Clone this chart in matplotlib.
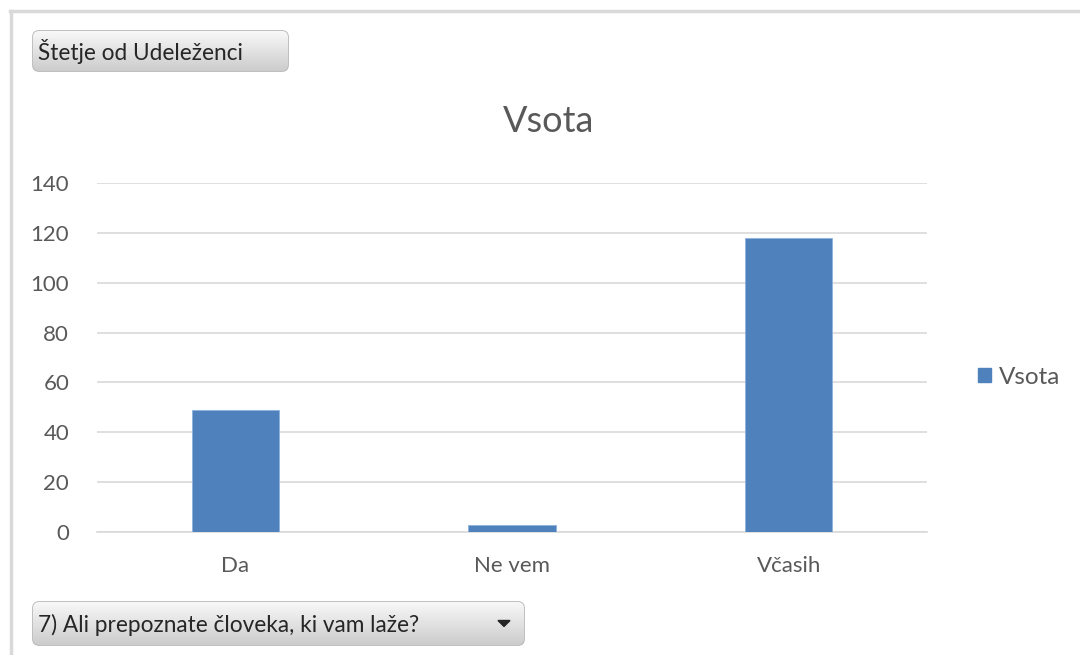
import numpy as np
import matplotlib
matplotlib.use("Agg")
import matplotlib.pyplot as plt
from matplotlib.patches import FancyBboxPatch, Rectangle, Polygon

plt.rcParams['font.family'] = ['Lato', 'DejaVu Sans']

categories = ['Da', 'Ne vem', 'Včasih']
values = [49, 3, 118]
series_name = 'Vsota'
yticks = [0, 20, 40, 60, 80, 100, 120, 140]
field_button = 'Štetje od Udeleženci'
filter_button = '7) Ali prepoznate človeka, ki vam laže?'

W, H = 1080, 655
fig = plt.figure(figsize=(W / 100, H / 100), dpi=100)
fig.patch.set_facecolor('white')

# outer frame of the pivot chart (top and left edges only)
fig.add_artist(plt.Line2D([10 / W, 1], [1 - 11 / H, 1 - 11 / H], color='#d9d9d9', lw=2.5))
fig.add_artist(plt.Line2D([11 / W, 11 / W], [0, 1 - 11 / H], color='#d9d9d9', lw=2.5))

ax = fig.add_axes([97 / W, 1 - 532 / H, 830 / W, 349 / H])
x = np.arange(len(categories))
bar_color = '#4f81bd'
ax.bar(x, values, width=0.315, color=bar_color, edgecolor='#8eb2dc', linewidth=0.6,
       label=series_name, zorder=3)
ax.set_xlim(-0.5, len(categories) - 0.5)
ax.set_ylim(0, 140)
ax.set_yticks(yticks)
ax.set_xticks(x)
ax.set_xticklabels(categories)
ax.grid(axis='y', color='#d9d9d9', lw=1.2, zorder=0)
for s in ['top', 'right', 'left']:
    ax.spines[s].set_visible(False)
ax.spines['bottom'].set_color('#d9d9d9')
ax.spines['bottom'].set_linewidth(1.2)
ax.tick_params(axis='both', length=0, labelsize=16, colors='#595959')
ax.tick_params(axis='y', pad=20)
ax.tick_params(axis='x', pad=17)

# chart title is centred on the whole chart area, not on the plot
fig.text(549 / W, 1 - 122 / H, 'Vsota', fontsize=26, color='#595959',
         ha='center', va='center')

fig.legend(handles=[Rectangle((0, 0), 1, 1, color=bar_color)], labels=[series_name],
           loc='center left', bbox_to_anchor=(956 / W, 1 - 377 / H), frameon=False,
           fontsize=17.5, labelcolor='#595959', handlelength=0.55, handleheight=0.55,
           handletextpad=0.3)


def button(x0, y0, x1, y1, text, arrow=False):
    bax = fig.add_axes([0, 0, 1, 1], zorder=5)
    bax.set_xlim(0, W)
    bax.set_ylim(H, 0)
    bax.axis('off')
    box = FancyBboxPatch((x0, y0), x1 - x0, y1 - y0,
                         boxstyle='round,pad=0,rounding_size=6',
                         facecolor='none', edgecolor='#b4b4b4', lw=1.2)
    bax.add_patch(box)
    grad = np.linspace(0.97, 0.80, 64).reshape(-1, 1)
    im = bax.imshow(grad, cmap='gray', vmin=0, vmax=1, extent=(x0, x1, y1, y0),
                    aspect='auto', zorder=1)
    im.set_clip_path(box)
    bax.text(x0 + 5, (y0 + y1) / 2 + 1, text, fontsize=16.3, color='#262626',
             va='center', ha='left', zorder=3)
    if arrow:
        ax_x = x1 - 20
        cy = (y0 + y1) / 2
        bax.add_patch(Polygon([[ax_x - 6, cy - 3], [ax_x + 6, cy - 3], [ax_x, cy + 3]],
                              closed=True, color='#262626', zorder=3))
    bax.set_xlim(0, W)
    bax.set_ylim(H, 0)


button(33, 31, 288, 71, field_button)
button(33, 602, 524, 645, filter_button, arrow=True)

fig.savefig('out.png', dpi=100, facecolor='white')
